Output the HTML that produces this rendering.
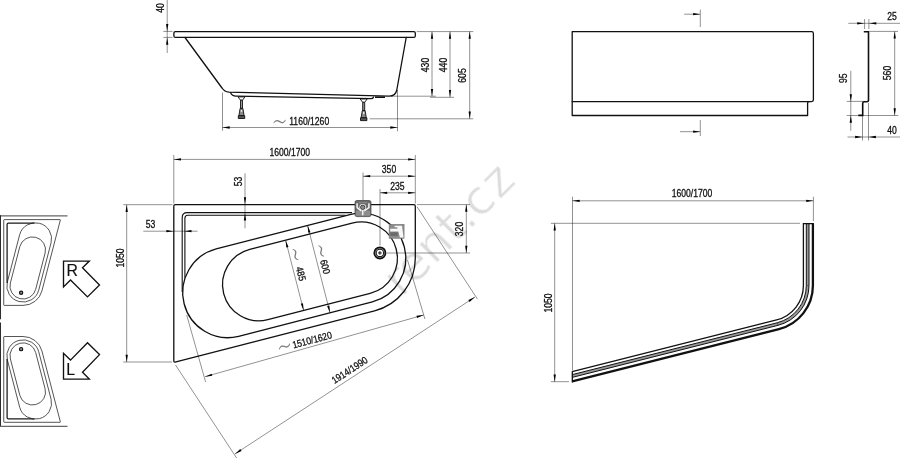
<!DOCTYPE html>
<html><head><meta charset="utf-8"><title>Drawing</title>
<style>
html,body{margin:0;padding:0;background:#fff;overflow:hidden}
svg{display:block}
svg text{font-family:"Liberation Sans",Arial,sans-serif}
.t{stroke:#000;stroke-width:0.44;fill:none}
.t2{stroke:#000;stroke-width:0.5;fill:none}
.ar{fill:#000;stroke:none}
.k3{stroke:#111;stroke-width:1.1;fill:none}
.k{stroke:#111;stroke-width:1.3;fill:none;stroke-linejoin:round;stroke-linecap:round}
.k2{stroke:#111;stroke-width:0.8;fill:none;stroke-linejoin:round}
</style></head>
<body>
<svg width="900" height="458" viewBox="0 0 900 458">
<rect width="900" height="458" fill="#fff"/>
<g opacity="0.999">
<text transform="translate(401.9,298.1) rotate(-45)" font-size="48" fill="#dcdcdc" letter-spacing="-0.2" dx="0 -2 0 0 0 0 2.3" stroke="#ffffff" stroke-width="0.8" style="font-family:'DejaVu Sans',Verdana,sans-serif">rent.cz</text>
<path class="k" d="M175.4,31.6 H413.8 Q415.3,31.6 415.3,33.1 V35.9 Q415.3,37.4 413.8,37.4 H175.4 Q173.9,37.4 173.9,35.9 V33.1 Q173.9,31.6 175.4,31.6 Z"/>
<path class="k" d="M185,37.5 L222,88 Q224.5,91.8 229,92.2 L389,96.2 Q395.5,96.3 396.8,90 L406.2,37.5"/>
<path class="k" d="M230.5,92.6 Q232,96.2 236,96.2 L371,98.7 Q373,98.7 373.5,97"/>
<path d="M375,97.2 H385" stroke="#111" stroke-width="1.6" fill="none"/>
<g transform="translate(241.5,96.9)"><path stroke="#111" stroke-width="0.9" stroke-linejoin="round" fill="#fff" d="M-3.5,0 H3.5 L1,3.3 H-1 Z"/><path stroke="#111" stroke-width="0.9" stroke-linejoin="round" fill="#999" d="M-1,3.3 H1 V11.5 H-1 Z"/><path stroke="#111" stroke-width="0.9" stroke-linejoin="round" fill="#8a8a8a" d="M-1.4,11.5 H1.4 L2.6,18.8 H-2.6 Z"/><circle cx="0" cy="14" r="0.9" fill="#f4f4f4"/><path stroke="#111" stroke-width="0.9" stroke-linejoin="round" fill="#555" d="M-3.2,18.8 H3.2 V21.6 H-3.2 Z"/></g>
<g transform="translate(363.7,99.0)"><path stroke="#111" stroke-width="0.9" stroke-linejoin="round" fill="#fff" d="M-3.5,0 H3.5 L1,3.3 H-1 Z"/><path stroke="#111" stroke-width="0.9" stroke-linejoin="round" fill="#999" d="M-1,3.3 H1 V11.5 H-1 Z"/><path stroke="#111" stroke-width="0.9" stroke-linejoin="round" fill="#8a8a8a" d="M-1.4,11.5 H1.4 L2.6,18.8 H-2.6 Z"/><circle cx="0" cy="14" r="0.9" fill="#f4f4f4"/><path stroke="#111" stroke-width="0.9" stroke-linejoin="round" fill="#555" d="M-3.2,18.8 H3.2 V21.6 H-3.2 Z"/></g>
<line class="t" x1="167.20" y1="0.00" x2="167.20" y2="53.00"/>
<line class="t" x1="163.30" y1="31.40" x2="172.50" y2="31.40"/>
<line class="t" x1="163.30" y1="37.40" x2="172.50" y2="37.40"/>
<polygon class="ar" points="167.20,31.20 166.05,24.00 168.35,24.00"/>
<polygon class="ar" points="167.20,37.60 168.35,44.80 166.05,44.80"/>
<text transform="translate(164.00,8.00) rotate(-90) scale(0.86,1)" text-anchor="middle" font-size="10" fill="#111" stroke="#111" stroke-width="0.3" >40</text>
<line class="t" x1="222.50" y1="92.50" x2="222.50" y2="130.80"/>
<line class="t" x1="397.50" y1="90.00" x2="397.50" y2="131.30"/>
<line class="t" x1="222.50" y1="127.50" x2="397.50" y2="127.50"/>
<polygon class="ar" points="222.50,127.50 229.70,126.35 229.70,128.65"/>
<polygon class="ar" points="397.50,127.50 390.30,128.65 390.30,126.35"/>
<text transform="translate(279.50,121.70) rotate(0) scale(1.25,2) translate(-6.28,4.75)" font-size="15" fill="#7a7a7a" style="font-family:'DejaVu Sans',sans-serif;font-weight:200">~</text>
<text transform="translate(309.20,124.60) rotate(0) scale(0.86,1)" text-anchor="middle" font-size="10" fill="#111" stroke="#111" stroke-width="0.3" >1160/1260</text>
<line class="t" x1="416.70" y1="31.60" x2="473.30" y2="31.60"/>
<line class="t" x1="391.00" y1="96.20" x2="435.80" y2="96.20"/>
<line class="t" x1="430.00" y1="97.30" x2="454.00" y2="97.30"/>
<line class="t" x1="369.70" y1="118.80" x2="473.30" y2="118.80"/>
<line class="t" x1="432.00" y1="31.60" x2="432.00" y2="96.20"/>
<polygon class="ar" points="432.00,31.60 433.15,38.80 430.85,38.80"/>
<polygon class="ar" points="432.00,96.20 430.85,89.00 433.15,89.00"/>
<line class="t" x1="450.00" y1="31.60" x2="450.00" y2="97.30"/>
<polygon class="ar" points="450.00,31.60 451.15,38.80 448.85,38.80"/>
<polygon class="ar" points="450.00,97.30 448.85,90.10 451.15,90.10"/>
<line class="t" x1="469.70" y1="31.60" x2="469.70" y2="118.80"/>
<polygon class="ar" points="469.70,31.60 470.85,38.80 468.55,38.80"/>
<polygon class="ar" points="469.70,118.80 468.55,111.60 470.85,111.60"/>
<text transform="translate(428.60,65.00) rotate(-90) scale(0.86,1)" text-anchor="middle" font-size="10" fill="#111" stroke="#111" stroke-width="0.3" >430</text>
<text transform="translate(446.80,65.00) rotate(-90) scale(0.86,1)" text-anchor="middle" font-size="10" fill="#111" stroke="#111" stroke-width="0.3" >440</text>
<text transform="translate(466.30,75.50) rotate(-90) scale(0.86,1)" text-anchor="middle" font-size="10" fill="#111" stroke="#111" stroke-width="0.3" >605</text>
<path class="k" d="M572.2,31.6 H811.6 Q813.4,31.6 813.4,33.4 V99.8 Q813.4,101.6 811.6,101.6 H809 Q807.6,101.6 807.6,103 V115.5 H572.2 Z"/>
<path class="k" d="M572.2,101.6 H809"/>
<line class="t" x1="700.30" y1="9.50" x2="700.30" y2="27.00"/>
<line class="t" x1="684.20" y1="14.20" x2="700.00" y2="14.20"/>
<polygon class="ar" points="700.30,14.20 693.10,15.35 693.10,13.05"/>
<line class="t" x1="700.30" y1="120.00" x2="700.30" y2="136.00"/>
<line class="t" x1="680.00" y1="131.70" x2="700.00" y2="131.70"/>
<polygon class="ar" points="700.30,131.70 693.10,132.85 693.10,130.55"/>
<path d="M863.8,31.8 H868.5 V100 Q868.5,101.7 866.8,101.7 H864.3 Q862.7,101.7 862.7,103.3 V115.4 H858.3" stroke="#111" stroke-width="1.6" fill="none"/>
<line class="t" x1="848.30" y1="23.30" x2="900.00" y2="23.30"/>
<line class="t" x1="864.60" y1="19.00" x2="864.60" y2="29.00"/>
<line class="t" x1="868.90" y1="19.00" x2="868.90" y2="29.00"/>
<polygon class="ar" points="864.40,23.30 857.20,24.45 857.20,22.15"/>
<polygon class="ar" points="869.10,23.30 876.30,22.15 876.30,24.45"/>
<text transform="translate(892.00,20.00) rotate(0) scale(0.86,1)" text-anchor="middle" font-size="10" fill="#111" stroke="#111" stroke-width="0.3" >25</text>
<line class="t" x1="869.50" y1="31.40" x2="898.00" y2="31.40"/>
<line class="t" x1="846.70" y1="115.50" x2="898.30" y2="115.50"/>
<line class="t" x1="894.70" y1="31.40" x2="894.70" y2="115.50"/>
<polygon class="ar" points="894.70,31.40 895.85,38.60 893.55,38.60"/>
<polygon class="ar" points="894.70,115.50 893.55,108.30 895.85,108.30"/>
<text transform="translate(891.30,73.00) rotate(-90) scale(0.86,1)" text-anchor="middle" font-size="10" fill="#111" stroke="#111" stroke-width="0.3" >560</text>
<line class="t" x1="850.80" y1="70.80" x2="850.80" y2="130.80"/>
<line class="t" x1="846.70" y1="101.40" x2="865.00" y2="101.40"/>
<polygon class="ar" points="850.80,101.40 849.65,94.20 851.95,94.20"/>
<polygon class="ar" points="850.80,115.50 851.95,122.70 849.65,122.70"/>
<text transform="translate(847.00,78.30) rotate(-90) scale(0.86,1)" text-anchor="middle" font-size="10" fill="#111" stroke="#111" stroke-width="0.3" >95</text>
<line class="t" x1="847.50" y1="137.00" x2="900.00" y2="137.00"/>
<line class="t" x1="862.50" y1="103.00" x2="862.50" y2="140.50"/>
<line class="t" x1="868.50" y1="103.00" x2="868.50" y2="140.50"/>
<polygon class="ar" points="862.30,137.00 855.10,138.15 855.10,135.85"/>
<polygon class="ar" points="868.70,137.00 875.90,135.85 875.90,138.15"/>
<text transform="translate(892.00,133.70) rotate(0) scale(0.86,1)" text-anchor="middle" font-size="10" fill="#111" stroke="#111" stroke-width="0.3" >40</text>
<path id="outer" class="k" d="M175.3,204.7 H413.8 Q415.3,204.7 415.3,206.2 V258.30 A54.2,54.2 0 0 1 374.58,310.80 L175.00,362.05 Q173.8,362.35 173.8,360.85 V206.2 Q173.8,204.7 175.3,204.7 Z"/>
<path id="tubo" class="k" d="M216.18,248.97 L349.88,214.62 A45.1,45.1 0 0 1 372.32,301.98 L238.62,336.33 A45.1,45.1 0 0 1 216.18,248.97 Z"/>
<path id="tubi" class="k" d="M249.77,249.41 L352.07,223.14 A36.3,36.3 0 0 1 370.13,293.46 L267.83,319.73 A36.3,36.3 0 0 1 249.77,249.41 Z"/>
<path class="k3" d="M182.2,292 V217.6 Q182.2,212.6 187.2,212.6 H352"/>
<path class="k3" d="M184.9,277.8 V218.3 Q184.9,215.3 187.9,215.3 H345.5"/>
<g transform="translate(379.9,252.95)"><circle r="5.1" fill="#fff" stroke="#666" stroke-width="1.6"/><circle r="5.75" fill="none" stroke="#111" stroke-width="1.5"/><circle r="3.7" fill="#fff" stroke="#1a1a1a" stroke-width="1.1"/><path d="M-1.9,0 H1.9 M0,-1.9 V1.9" stroke="#111" stroke-width="1.0" fill="none"/></g>
<g><rect x="355" y="200.5" width="16" height="16.1" rx="1.8" fill="#6c6c6c" stroke="#3c3c3c" stroke-width="0.7"/><rect x="355.8" y="210.6" width="14.4" height="5.2" fill="#8d8d8d"/><path d="M357.1,203.2 V207.6 L361.2,211 M368.9,203.2 V207.6 L364.2,211 M362.7,210 V215.2" stroke="#f6f6f6" stroke-width="1.5" fill="none"/><path d="M358.6,202.6 H367.2" stroke="#9a9a9a" stroke-width="0.6"/><circle cx="362.7" cy="207.3" r="3.3" fill="#f6f6f6"/><circle cx="362.7" cy="207.3" r="2.2" fill="#8a8a8a" stroke="#3a3a3a" stroke-width="0.9"/></g>
<g><rect x="389.1" y="224.3" width="15" height="14" fill="#8b8b8b" stroke="#6a6a6a" stroke-width="0.5"/><path d="M394.6,225.8 H402 L403.6,237.6 H399.9 L398.4,231.4 H390.2 V228.8 H397.6 L397.2,227.2 H394.6 Z" fill="#f7f7f7"/><rect x="390.2" y="232.3" width="7.6" height="3.6" fill="#6a6a6a"/></g>
<line class="t" x1="173.80" y1="155.00" x2="173.80" y2="203.50"/>
<line class="t" x1="415.30" y1="155.00" x2="415.30" y2="203.50"/>
<line class="t" x1="173.80" y1="159.40" x2="415.30" y2="159.40"/>
<polygon class="ar" points="173.80,159.40 181.00,158.25 181.00,160.55"/>
<polygon class="ar" points="415.30,159.40 408.10,160.55 408.10,158.25"/>
<text transform="translate(289.70,155.90) rotate(0) scale(0.86,1)" text-anchor="middle" font-size="10" fill="#111" stroke="#111" stroke-width="0.3" >1600/1700</text>
<line class="t" x1="363.00" y1="172.50" x2="363.00" y2="200.00"/>
<line class="t" x1="363.00" y1="176.20" x2="415.30" y2="176.20"/>
<polygon class="ar" points="363.00,176.20 370.20,175.05 370.20,177.35"/>
<polygon class="ar" points="415.30,176.20 408.10,177.35 408.10,175.05"/>
<text transform="translate(389.00,173.30) rotate(0) scale(0.86,1)" text-anchor="middle" font-size="10" fill="#111" stroke="#111" stroke-width="0.3" >350</text>
<line class="t" x1="380.00" y1="189.00" x2="380.00" y2="245.50"/>
<line class="t" x1="380.00" y1="192.80" x2="415.30" y2="192.80"/>
<polygon class="ar" points="380.00,192.80 387.20,191.65 387.20,193.95"/>
<polygon class="ar" points="415.30,192.80 408.10,193.95 408.10,191.65"/>
<text transform="translate(397.30,189.60) rotate(0) scale(0.86,1)" text-anchor="middle" font-size="10" fill="#111" stroke="#111" stroke-width="0.3" >235</text>
<line class="t" x1="245.00" y1="173.30" x2="245.00" y2="228.30"/>
<polygon class="ar" points="245.00,204.50 243.85,197.30 246.15,197.30"/>
<polygon class="ar" points="245.00,213.30 246.15,220.50 243.85,220.50"/>
<text transform="translate(241.80,181.40) rotate(-90) scale(0.86,1)" text-anchor="middle" font-size="10" fill="#111" stroke="#111" stroke-width="0.3" >53</text>
<line class="t" x1="143.30" y1="231.20" x2="197.50" y2="231.20"/>
<polygon class="ar" points="173.60,231.20 166.40,232.35 166.40,230.05"/>
<polygon class="ar" points="184.30,231.20 191.50,230.05 191.50,232.35"/>
<text transform="translate(150.50,228.00) rotate(0) scale(0.86,1)" text-anchor="middle" font-size="10" fill="#111" stroke="#111" stroke-width="0.3" >53</text>
<line class="t" x1="123.30" y1="204.70" x2="172.50" y2="204.70"/>
<line class="t" x1="123.30" y1="362.00" x2="172.00" y2="362.00"/>
<line class="t" x1="126.70" y1="204.70" x2="126.70" y2="362.00"/>
<polygon class="ar" points="126.70,204.70 127.85,211.90 125.55,211.90"/>
<polygon class="ar" points="126.70,362.00 125.55,354.80 127.85,354.80"/>
<text transform="translate(123.70,258.00) rotate(-90) scale(0.86,1)" text-anchor="middle" font-size="10" fill="#111" stroke="#111" stroke-width="0.3" >1050</text>
<line class="t" x1="417.00" y1="204.60" x2="470.00" y2="204.60"/>
<line class="t" x1="387.00" y1="253.00" x2="470.00" y2="253.00"/>
<line class="t" x1="466.30" y1="204.60" x2="466.30" y2="253.00"/>
<polygon class="ar" points="466.30,204.60 467.45,211.80 465.15,211.80"/>
<polygon class="ar" points="466.30,253.00 465.15,245.80 467.45,245.80"/>
<text transform="translate(463.00,229.00) rotate(-90) scale(0.86,1)" text-anchor="middle" font-size="10" fill="#111" stroke="#111" stroke-width="0.3" >320</text>
<line class="t" x1="307.60" y1="225.47" x2="330.03" y2="312.84"/>
<polygon class="ar" points="307.60,225.47 310.50,232.16 308.28,232.73"/>
<polygon class="ar" points="330.03,312.84 327.13,306.15 329.36,305.58"/>
<line class="t" x1="285.60" y1="240.21" x2="303.65" y2="310.53"/>
<polygon class="ar" points="285.60,240.21 288.50,246.90 286.28,247.47"/>
<polygon class="ar" points="303.65,310.53 300.75,303.84 302.98,303.27"/>
<text transform="translate(321.20,251.10) rotate(75.6) scale(1.25,2) translate(-6.28,4.75)" font-size="15" fill="#7a7a7a" style="font-family:'DejaVu Sans',sans-serif;font-weight:200">~</text>
<text transform="translate(321.90,267.60) rotate(75.6) scale(0.86,1)" text-anchor="middle" font-size="10" fill="#111" stroke="#111" stroke-width="0.3" >600</text>
<text transform="translate(295.50,254.40) rotate(75.6) scale(1.25,2) translate(-6.28,4.75)" font-size="15" fill="#7a7a7a" style="font-family:'DejaVu Sans',sans-serif;font-weight:200">~</text>
<text transform="translate(297.60,274.60) rotate(75.6) scale(0.86,1)" text-anchor="middle" font-size="10" fill="#111" stroke="#111" stroke-width="0.3" >485</text>
<line class="t" x1="186.70" y1="315.00" x2="205.60" y2="382.00"/>
<line class="t" x1="407.50" y1="260.00" x2="424.90" y2="319.00"/>
<line class="t" x1="205.00" y1="376.70" x2="423.70" y2="315.00"/>
<polygon class="ar" points="205.00,376.70 211.62,373.64 212.24,375.85"/>
<polygon class="ar" points="423.70,315.00 417.08,318.06 416.46,315.85"/>
<text transform="translate(284.50,346.50) rotate(-15.5) scale(1.25,2) translate(-6.28,4.75)" font-size="15" fill="#7a7a7a" style="font-family:'DejaVu Sans',sans-serif;font-weight:200">~</text>
<text transform="translate(313.00,343.20) rotate(-15) scale(0.86,1)" text-anchor="middle" font-size="10" fill="#111" stroke="#111" stroke-width="0.3" >1510/1620</text>
<line class="t" x1="175.50" y1="365.00" x2="236.60" y2="458.00"/>
<line class="t" x1="417.00" y1="206.70" x2="477.50" y2="299.20"/>
<line class="t" x1="234.90" y1="454.00" x2="475.00" y2="297.00"/>
<polygon class="ar" points="234.90,454.00 240.30,449.10 241.56,451.02"/>
<polygon class="ar" points="475.00,297.00 469.60,301.90 468.34,299.98"/>
<text transform="translate(351.50,373.00) rotate(-33.2) scale(0.86,1)" text-anchor="middle" font-size="10" fill="#111" stroke="#111" stroke-width="0.3" >1914/1990</text>
<path fill="none" stroke="#999" stroke-width="2.6" d="M807.65,223.4 V285.50 A39.75,39.75 0 0 1 777.65,324.04 L572.20,376.02"/>
<path fill="none" stroke="#111" stroke-width="2.3" d="M812.90,223.4 V285.50 A45.00,45.00 0 0 1 778.94,329.13 L572.20,381.44"/>
<path fill="none" stroke="#111" stroke-width="1.3" d="M803.40,223.4 V285.50 A35.50,35.50 0 0 1 776.61,319.92 L572.20,371.64"/>
<path fill="none" stroke="#111" stroke-width="1.0" d="M806.30,223.4 V285.50 A38.40,38.40 0 0 1 777.32,322.73 L572.20,374.63"/>
<path fill="none" stroke="#111" stroke-width="1.0" d="M809.00,223.4 V285.50 A41.10,41.10 0 0 1 777.98,325.34 L572.20,377.42"/>
<path class="k" d="M803.40,223.6 H813.40 M572.3,371.64 V381.94"/>
<path stroke="#222" stroke-width="0.5" d="M806.30,285.50 h2.7 M777.32,322.73 L777.98,325.34"/>
<line class="t" x1="572.50" y1="196.70" x2="572.50" y2="370.50"/>
<line class="t" x1="813.40" y1="196.70" x2="813.40" y2="221.00"/>
<line class="t" x1="550.80" y1="223.30" x2="800.00" y2="223.30"/>
<line class="t" x1="550.80" y1="381.70" x2="569.00" y2="381.70"/>
<line class="t" x1="572.50" y1="200.80" x2="813.40" y2="200.80"/>
<polygon class="ar" points="572.50,200.80 579.70,199.65 579.70,201.95"/>
<polygon class="ar" points="813.40,200.80 806.20,201.95 806.20,199.65"/>
<text transform="translate(692.00,197.30) rotate(0) scale(0.86,1)" text-anchor="middle" font-size="10" fill="#111" stroke="#111" stroke-width="0.3" >1600/1700</text>
<line class="t" x1="554.70" y1="223.30" x2="554.70" y2="381.70"/>
<polygon class="ar" points="554.70,223.30 555.85,230.50 553.55,230.50"/>
<polygon class="ar" points="554.70,381.70 553.55,374.50 555.85,374.50"/>
<text transform="translate(551.60,303.00) rotate(-90) scale(0.86,1)" text-anchor="middle" font-size="10" fill="#111" stroke="#111" stroke-width="0.3" >1050</text>
<g transform="matrix(0,0.35528,0.35968,0,-69.877,157.852)" fill="none" stroke="#2a2a2a">
<path d="M175.3,204.7 H413.8 Q415.3,204.7 415.3,206.2 V258.30 A54.2,54.2 0 0 1 374.58,310.80 L175.00,362.05 Q173.8,362.35 173.8,360.85 V206.2 Q173.8,204.7 175.3,204.7 Z" stroke-width="2.25"/>
<path d="M216.18,248.97 L349.88,214.62 A45.1,45.1 0 0 1 372.32,301.98 L238.62,336.33 A45.1,45.1 0 0 1 216.18,248.97 Z" stroke-width="2.25"/>
<path d="M249.77,249.41 L352.07,223.14 A36.3,36.3 0 0 1 370.13,293.46 L267.83,319.73 A36.3,36.3 0 0 1 249.77,249.41 Z" stroke-width="2.25"/>
<path d="M183.5,290 V218 Q183.5,214 187.5,214 H352" stroke="#1a1a1a" stroke-width="3.52"/>
<circle cx="379.7" cy="253" r="4.6" fill="#888" stroke="#111" stroke-width="3.10"/>
</g>
<g transform="matrix(0,-0.35528,0.35968,0,-69.877,484.048)" fill="none" stroke="#2a2a2a">
<path d="M175.3,204.7 H413.8 Q415.3,204.7 415.3,206.2 V258.30 A54.2,54.2 0 0 1 374.58,310.80 L175.00,362.05 Q173.8,362.35 173.8,360.85 V206.2 Q173.8,204.7 175.3,204.7 Z" stroke-width="2.25"/>
<path d="M216.18,248.97 L349.88,214.62 A45.1,45.1 0 0 1 372.32,301.98 L238.62,336.33 A45.1,45.1 0 0 1 216.18,248.97 Z" stroke-width="2.25"/>
<path d="M249.77,249.41 L352.07,223.14 A36.3,36.3 0 0 1 370.13,293.46 L267.83,319.73 A36.3,36.3 0 0 1 249.77,249.41 Z" stroke-width="2.25"/>
<path d="M183.5,290 V218 Q183.5,214 187.5,214 H352" stroke="#1a1a1a" stroke-width="3.52"/>
<circle cx="379.7" cy="253" r="4.6" fill="#888" stroke="#111" stroke-width="3.10"/>
</g>
<path d="M0,215.8 H67.5" stroke="#666" stroke-width="1.2"/>
<path d="M0.4,215.2 V319.2" stroke="#222" stroke-width="1.1"/>
<path d="M0.4,322.5 V426.8" stroke="#222" stroke-width="1.1"/>
<path d="M0,426.3 H67.5" stroke="#666" stroke-width="1.2"/>
<polygon points="63.5,261.1 89.3,261.1 82.5,267.7 99.5,285.1 87.5,296.9 70.5,279.9 63.5,286.9" fill="#fff" stroke="#111" stroke-width="1.35" stroke-linejoin="miter"/>
<text x="66.4" y="276.2" font-size="15.8" fill="#111" stroke="#111" stroke-width="0.15">R</text>
<polygon points="63.5,379.1 89.3,379.1 82.5,372.2 99.5,354.6 87.5,342.8 70.5,360.1 63.5,353.3" fill="#fff" stroke="#111" stroke-width="1.35" stroke-linejoin="miter"/>
<text x="66.3" y="374.8" font-size="15.8" fill="#111" stroke="#111" stroke-width="0.15">L</text>
</g>
</svg>
</body></html>
